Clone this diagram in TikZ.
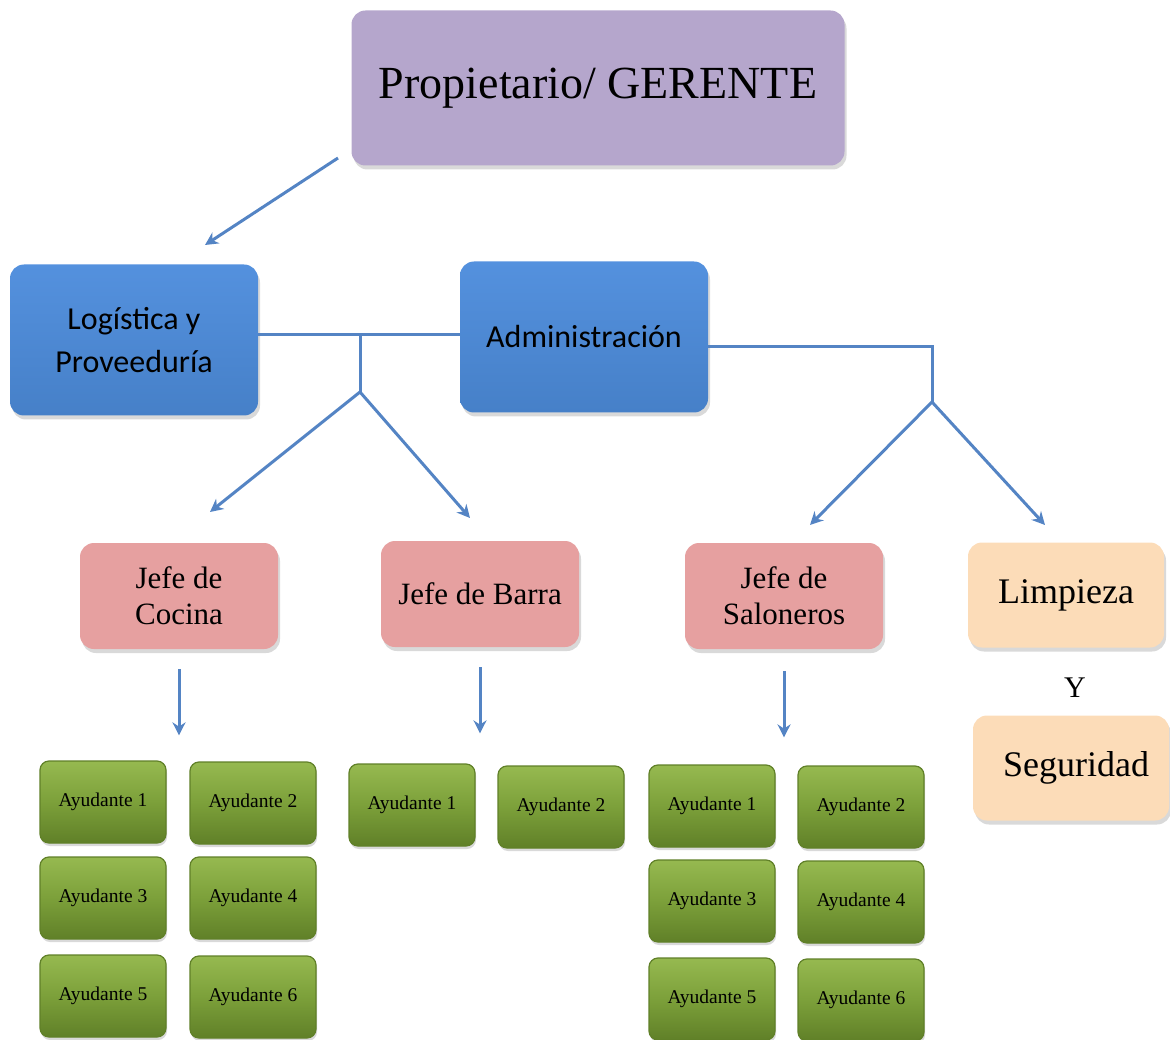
\documentclass[tikz,border=0pt]{standalone}
\usepackage{fontspec}
\setmainfont{Liberation Serif}
\newfontfamily\calib{Carlito}
\usetikzlibrary{arrows.meta,shadows,positioning}

\definecolor{lila}{RGB}{181,166,204}
\definecolor{azul}{RGB}{84,145,222}
\definecolor{azulD}{RGB}{70,128,200}
\definecolor{rosa}{RGB}{230,160,160}
\definecolor{melon}{RGB}{252,220,184}
\definecolor{grnL}{RGB}{150,185,80}
\definecolor{grn}{RGB}{124,160,58}
\definecolor{grnD}{RGB}{96,128,40}
\definecolor{flechac}{RGB}{84,132,196}

\begin{document}
\begin{tikzpicture}[x=1pt,y=-1pt,thick,
    caja/.style={rounded corners=14pt, align=center, inner sep=0pt,
      drop shadow={shadow xshift=2pt,shadow yshift=-4pt,opacity=.3}},
    jefe/.style={caja, fill=rosa, minimum width=198pt, minimum height=106pt,
      font=\fontsize{31}{36}\selectfont},
    depto/.style={caja, top color=azul, bottom color=azulD, minimum width=248pt,
      minimum height=151pt, font=\calib\fontsize{32}{43}\selectfont},
    otro/.style={caja, fill=melon, minimum width=196pt, minimum height=105pt,
      font=\fontsize{36}{40}\selectfont},
    ayud/.style={rounded corners=9pt, draw=grnD, line width=1.2pt, top color=grnL,
      bottom color=grnD, middle color=grn, minimum width=126pt, minimum height=82pt,
      inner sep=0pt, font=\fontsize{19.5}{22}\selectfont,
      drop shadow={shadow xshift=1pt,shadow yshift=-3pt,opacity=.3}},
    linea/.style={flechac, line width=3pt},
    flecha/.style={linea, -{Stealth[length=13pt,width=13pt]}}]
  \useasboundingbox (0,0) rectangle (1170,1040);

  % cabeza
  \node[caja, fill=lila, minimum width=493pt, minimum height=155pt,
    font=\fontsize{46}{50}\selectfont] (gerente) at (598,88) {Propietario/ GERENTE};

  % departamentos
  \node[depto] (log) at (134,340) {Logística y\\Proveeduría};
  \node[depto] (adm) at (584,337) {Administración};

  % jefes
  \node[jefe] (jcoc) at (179,596) {Jefe de\\Cocina};
  \node[jefe] (jbar) at (480,594) {Jefe de Barra};
  \node[jefe] (jsal) at (784,596) {Jefe de\\Saloneros};
  \node[otro] (limp) at (1066,595) {Limpieza};
  \node[font=\fontsize{30}{32}\selectfont] (yy) at (1075,688) {Y};
  \node[otro] (seg) at (1071,768) {\hspace{10pt}Seguridad};

  % ayudantes
  \foreach \n/\x/\y in {1/103/802, 2/253/803, 3/103/898, 4/253/898, 5/103/996, 6/253/997}
    \node[ayud] (coc\n) at (\x,\y) {Ayudante \n};
  \foreach \n/\x/\y in {1/412/805, 2/561/807}
    \node[ayud] (bar\n) at (\x,\y) {Ayudante \n};
  \foreach \n/\x/\y in {1/712/806, 2/861/807, 3/712/901, 4/861/902, 5/712/999, 6/861/1000}
    \node[ayud] (sal\n) at (\x,\y) {Ayudante \n};

  % conexiones
  \coordinate (gsal) at (338,158);
  \coordinate (glle) at (205,245);
  \draw[flecha] (gsal) -- (glle);

  \coordinate (r1) at (360,335);
  \coordinate (r1b) at (360,392);
  \coordinate (r1c) at (210,512);
  \coordinate (r1d) at (470,518);
  \draw[linea] (log.east |- r1) -- (adm.west |- r1);
  \draw[linea] (r1) -- (r1b);
  \draw[flecha] (r1b) -- (r1c);
  \draw[flecha] (r1b) -- (r1d);

  \coordinate (r2) at (932,347);
  \coordinate (r2b) at (932,402);
  \coordinate (r2c) at (810,525);
  \coordinate (r2d) at (1045,525);
  \draw[linea] (adm.east |- r2) -- (r2) -- (r2b);
  \draw[flecha] (r2b) -- (r2c);
  \draw[flecha] (r2b) -- (r2d);

  \draw[flecha, shorten <=20pt, shorten >=25pt] (jcoc.south) -- (jcoc.south |- coc1.north);
  \draw[flecha, shorten <=20pt, shorten >=30pt] (jbar.south) -- (jbar.south |- bar1.north);
  \draw[flecha, shorten <=22pt, shorten >=27pt] (jsal.south) -- (jsal.south |- sal1.north);
\end{tikzpicture}
\end{document}
